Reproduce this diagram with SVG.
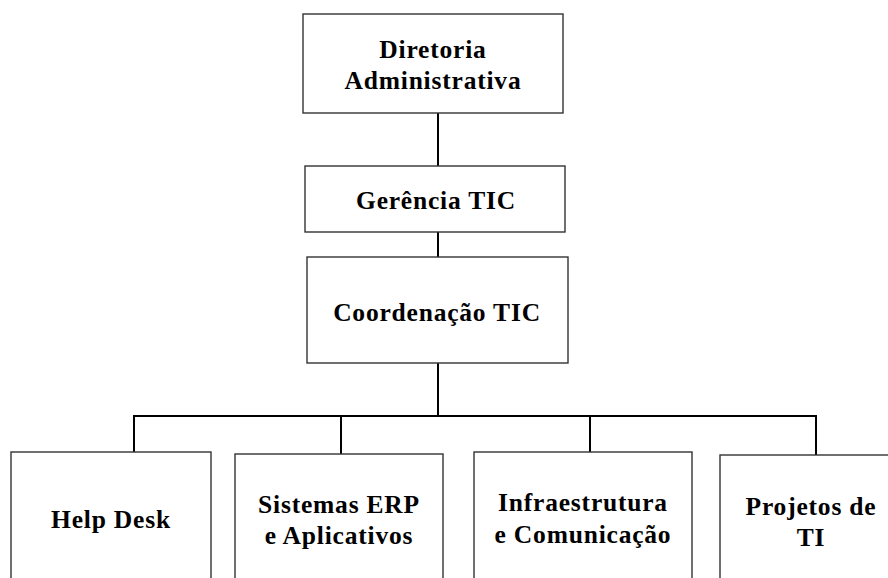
<svg xmlns="http://www.w3.org/2000/svg" width="888" height="578" viewBox="0 0 888 578">
<style>
.box{fill:#fff;stroke:#333;stroke-width:1.4}
.t{font-family:"Liberation Serif","Times New Roman",serif;font-weight:bold;font-size:25.5px;letter-spacing:0.8px;fill:#000;text-anchor:middle}
.c{stroke:#000;stroke-width:2;fill:none}
</style>
<rect width="888" height="578" fill="#fff"/>
<g id="connectors">
<line class="c" x1="438" y1="113" x2="438" y2="166"/>
<line class="c" x1="438" y1="232" x2="438" y2="257"/>
<line class="c" x1="438" y1="363" x2="438" y2="416"/>
<line class="c" x1="134" y1="416" x2="817" y2="416"/>
<line class="c" x1="134" y1="415" x2="134" y2="452"/>
<line class="c" x1="341" y1="415" x2="341" y2="454"/>
<line class="c" x1="590" y1="415" x2="590" y2="452"/>
<line class="c" x1="816" y1="415" x2="816" y2="455"/>
</g>
<g id="n-diretoria">
<rect class="box" x="303" y="14" width="260" height="99"/>
<text class="t" x="433" y="58">Diretoria</text>
<text class="t" x="433" y="89">Administrativa</text>
</g>
<g id="n-gerencia">
<rect class="box" x="305" y="166" width="260" height="66"/>
<text class="t" x="436" y="209">Gerência TIC</text>
</g>
<g id="n-coordenacao">
<rect class="box" x="307" y="257" width="261" height="106"/>
<text class="t" x="437" y="321">Coordenação TIC</text>
</g>
<g id="n-helpdesk">
<rect class="box" x="11" y="452" width="200" height="140"/>
<text class="t" x="111" y="528">Help Desk</text>
</g>
<g id="n-sistemas">
<rect class="box" x="235" y="454" width="208" height="140"/>
<text class="t" x="339" y="513">Sistemas ERP</text>
<text class="t" x="339" y="544">e Aplicativos</text>
</g>
<g id="n-infra">
<rect class="box" x="474" y="452" width="218" height="140"/>
<text class="t" x="583" y="511">Infraestrutura</text>
<text class="t" x="583" y="543">e Comunicação</text>
</g>
<g id="n-projetos">
<rect class="box" x="720" y="455" width="190" height="140"/>
<text class="t" x="811" y="515">Projetos de</text>
<text class="t" x="811" y="546">TI</text>
</g>
</svg>
